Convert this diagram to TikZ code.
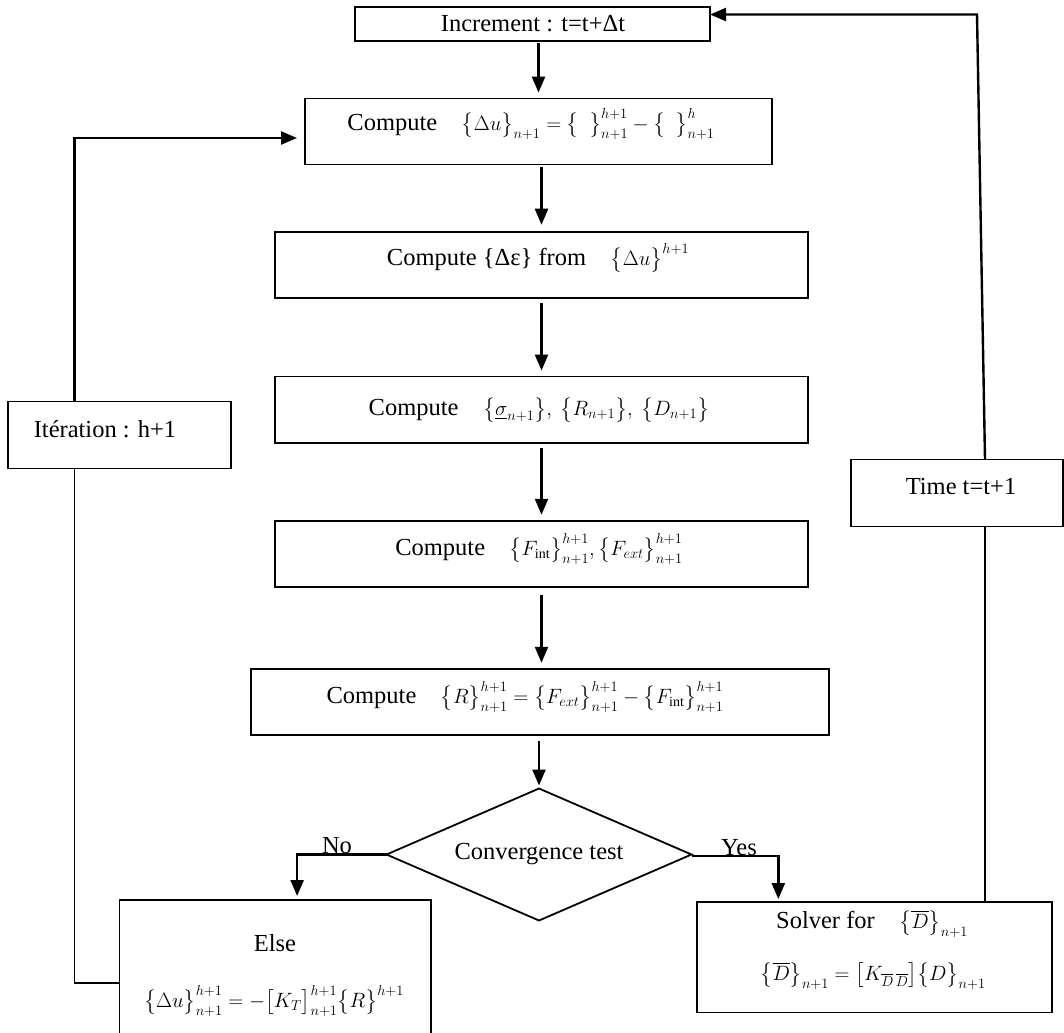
\documentclass[tikz,border=0pt]{standalone}
\usepackage{fontspec}
\setmainfont{Liberation Serif}
\usepackage{amsmath}
\usepackage{tikz}
\usetikzlibrary{shapes.geometric,arrows.meta}
\pgfdeclarelayer{background}
\pgfdeclarelayer{foreground}
\pgfsetlayers{background,main,foreground}
\newcommand{\fml}[1]{{\fontsize{20}{24}\selectfont$#1$}}

\begin{document}
\begin{tikzpicture}[x=1pt,y=-1pt,
  font=\fontsize{24.5}{29}\selectfont,
  box/.style={draw,line width=1.8pt,rectangle,inner sep=0pt,outer sep=0pt},
  test/.style={draw,line width=1.8pt,diamond,aspect=2.3,inner sep=0pt,outer sep=0pt,minimum width=305pt,minimum height=132pt},
  txt/.style={inner sep=0pt},
  arr/.style={line width=2.4pt,-{Triangle[length=16pt,width=13pt]}},
  link/.style={line width=1.5pt}]
\useasboundingbox (0,0) rectangle (1064,1032);
\begin{pgfonlayer}{foreground}
\node[box,minimum width=355pt,minimum height=34pt] (inc) at (532.5,23.7) {};
\node[txt] (inc-t) at (533,24) {Increment : t=t+Δt};
\node[box,minimum width=467pt,minimum height=66pt] (du) at (538.5,131.6) {};
\node[txt] (du-t) at (531,124) {Compute\quad \fml{\bigl\{\Delta u\bigr\}_{n+1}=\bigl\{\ \ \bigr\}^{h+1}_{n+1}-\bigl\{\ \ \bigr\}^{h}_{n+1}}};
\node[box,minimum width=533pt,minimum height=66.5pt] (deps) at (541.5,265) {};
\node[txt] (deps-t) at (538,258) {Compute \{Δε\} from\quad \fml{\bigl\{\Delta u\bigr\}^{h+1}}};
\node[box,minimum width=533pt,minimum height=66.5pt] (sig) at (541.5,409.8) {};
\node[txt] (sig-t) at (539,410) {Compute\quad \fml{\bigl\{\underline{\sigma}_{n+1}\bigr\},\ \bigl\{R_{n+1}\bigr\},\ \bigl\{D_{n+1}\bigr\}}};
\node[box,minimum width=533pt,minimum height=66.5pt] (force) at (541.5,554) {};
\node[txt] (force-t) at (539,549) {Compute\quad \fml{\bigl\{F_{\mathrm{int}}\bigr\}^{h+1}_{n+1},\bigl\{F_{ext}\bigr\}^{h+1}_{n+1}}};
\node[box,minimum width=578pt,minimum height=66.5pt] (res) at (540,702) {};
\node[txt] (res-t) at (525,697) {Compute\quad \fml{\bigl\{R\bigr\}^{h+1}_{n+1}=\bigl\{F_{ext}\bigr\}^{h+1}_{n+1}-\bigl\{F_{\mathrm{int}}\bigr\}^{h+1}_{n+1}}};
\node[test] (conv) at (539,854.5) {Convergence test};
\node[box,minimum width=311.4pt,minimum height=140pt] (els) at (275.1,970) {};
\node[txt] (els-a) at (275,943) {Else};
\node[txt] (els-b) at (274,1001) {\fml{\bigl\{\Delta u\bigr\}^{h+1}_{n+1}=-\bigl[K_{T}\bigr]^{h+1}_{n+1}\bigl\{R\bigr\}^{h+1}}};
\node[box,minimum width=354.6pt,minimum height=110.5pt] (solv) at (874.3,957.3) {};
\node[txt] (solv-a) at (872,924) {Solver for\quad \fml{\bigl\{\overline{D}\bigr\}_{n+1}}};
\node[txt] (solv-b) at (873,976) {\fml{\bigl\{\overline{D}\bigr\}_{n+1}=\bigl[K_{\overline{D}\,\overline{D}}\bigr]\bigl\{D\bigr\}_{n+1}}};
\node[box,minimum width=222.7pt,minimum height=67pt] (iter) at (119.4,435) {};
\node[txt] (iter-t) at (105,429) {Itération : h+1};
\node[box,minimum width=212pt,minimum height=67pt] (tim) at (957,493) {};
\node[txt] (tim-t) at (961,487) {Time t=t+1};
\end{pgfonlayer}
\begin{pgfonlayer}{background}
\draw[arr,shorten <=2pt,shorten >=6pt] (inc.south -| du.north) -- (du.north);
\draw[arr,shorten <=2pt,shorten >=7pt] (du.south -| deps.north) -- (deps.north);
\draw[arr,shorten <=5pt,shorten >=6pt] (deps.south) -- (sig.north);
\draw[arr,shorten <=5pt,shorten >=6pt] (sig.south) -- (force.north);
\draw[arr,shorten <=8pt,shorten >=6pt] (force.south) -- (force.south |- res.north);
\draw[arr,shorten <=6pt,shorten >=3pt] (res.south -| conv.north) -- (conv.north);
\draw[arr,shorten >=4pt] (conv.west) -| ([xshift=22pt]els.north);
\node[txt,anchor=base] (no) at (337,853) {No};
\draw[arr,shorten >=3pt] ([yshift=-1.5pt]conv.east) -| ([xshift=-96pt]solv.north);
\node[txt,anchor=base] (yes) at (739,855) {Yes};
\draw[link] ([xshift=110.7pt]solv.north) -- ([xshift=28pt]tim.south);
\coordinate (tcorner) at (977,14.5);
\draw[arr] ([xshift=28pt]tim.north) -- (tcorner) -- ([yshift=9.2pt]inc.east);
\draw[link] ([yshift=-13pt]els.west) -| ([xshift=-44.8pt]iter.south);
\draw[arr,shorten >=8pt] ([xshift=-44.8pt]iter.north) |- ([yshift=-6.4pt]du.west);
\end{pgfonlayer}
\end{tikzpicture}
\end{document}
